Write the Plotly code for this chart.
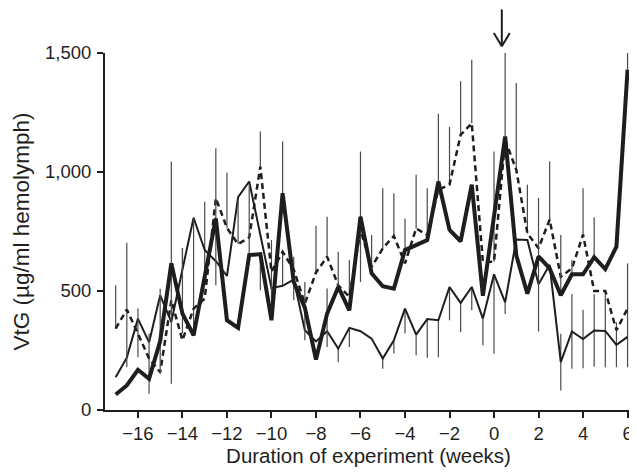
import plotly.graph_objects as go

weeks = [-17 + 0.5 * i for i in range(47)]

bold_vals = [65, 103, 169, 131, 290, 616, 405, 314, 560, 805, 377, 345, 651, 655, 377, 911,
             538, 430, 212, 405, 517, 419, 812, 574, 520, 510, 672, 693, 714, 960, 757, 709,
             947, 480, 815, 1149, 650, 489, 645, 595, 482, 570, 570, 642, 592, 686, 1430]
bold_up = [0, 0, 0, 0, 219, 428, 274, 0, 0, 295, 0, 0, 300, 0, 0, 217,
           106, 108, 0, 105, 148, 0, 274, 0, 0, 0, 133, 0, 218, 285, 0, 0,
           0, 0, 0, 358, 0, 0, 247, 0, 253, 60, 0, 168, 0, 0, 77]
bold_dn = [0, 0, 0, 0, 139, 506, 84, 0, 0, 281, 0, 0, 0, 152, 0, 0,
           77, 137, 0, 140, 0, 0, 274, 0, 0, 0, 0, 0, 0, 0, 0, 0,
           0, 0, 0, 0, 0, 0, 315, 0, 0, 0, 0, 0, 0, 0, 0]

thin_vals = [138, 220, 384, 284, 482, 370, 590, 808, 672, 625, 563, 894, 960, 740, 512, 522,
             548, 335, 288, 331, 258, 345, 331, 300, 216, 293, 426, 317, 382, 377, 517, 450,
             517, 384, 570, 452, 716, 714, 528, 610, 201, 330, 298, 334, 332, 274, 307]
thin_up = [0, 0, 0, 0, 0, 0, 91, 0, 203, 0, 0, 0, 0, 0, 0, 0,
           0, 0, 0, 0, 0, 0, 0, 0, 0, 0, 0, 0, 0, 0, 0, 0,
           0, 0, 0, 0, 0, 0, 0, 0, 119, 157, 123, 152, 152, 94, 127]
thin_dn = [0, 0, 0, 0, 0, 0, 0, 0, 148, 0, 0, 0, 0, 0, 0, 0,
           0, 0, 0, 0, 57, 80, 0, 0, 43, 56, 105, 87, 162, 155, 140, 122,
           98, 112, 334, 49, 0, 0, 0, 0, 119, 157, 123, 152, 152, 94, 127]

dash_vals = [342, 422, 321, 216, 159, 461, 293, 426, 468, 890, 765, 697, 725, 1023, 581, 665,
             590, 447, 578, 644, 524, 475, 756, 601, 679, 731, 616, 763, 735, 925, 947, 1156,
             1205, 623, 623, 1135, 1009, 742, 680, 800, 560, 595, 737, 500, 500, 335, 426]
dash_up = [182, 281, 105, 105, 0, 0, 0, 380, 0, 0, 232, 190, 0, 147, 133, 0,
           0, 0, 196, 168, 0, 155, 0, 134, 253, 180, 0, 225, 0, 0, 242, 225,
           267, 0, 463, 0, 365, 204, 0, 244, 0, 0, 195, 0, 0, 0, 190]
dash_dn = [0, 242, 99, 148, 0, 0, 0, 105, 0, 0, 0, 0, 0, 0, 176, 140,
           0, 0, 0, 0, 0, 0, 0, 0, 0, 0, 0, 0, 0, 0, 0, 0,
           0, 0, 0, 0, 0, 0, 0, 0, 0, 0, 0, 0, 0, 0, 0]

x_ticks = [-16, -14, -12, -10, -8, -6, -4, -2, 0, 2, 4, 6]
y_ticks = [0, 500, 1000, 1500]
ARROW_WEEK = 0.35

INK = "#1e1e1e"
ERR = "#4a4a4a"
FAMILY = "Liberation Sans, Arial, sans-serif"


def err(up, dn):
    return dict(type="data", symmetric=False, array=up, arrayminus=dn,
                width=0, thickness=1.2, color=ERR)


fig = go.Figure()
fig.add_trace(go.Scatter(x=weeks, y=thin_vals, mode="lines",
                         line=dict(color=INK, width=2),
                         error_y=err(thin_up, thin_dn), showlegend=False))
fig.add_trace(go.Scatter(x=weeks, y=dash_vals, mode="lines",
                         line=dict(color=INK, width=2.5, dash="6px,4px"),
                         error_y=err(dash_up, dash_dn), showlegend=False))
fig.add_trace(go.Scatter(x=weeks, y=bold_vals, mode="lines",
                         line=dict(color=INK, width=4),
                         error_y=err(bold_up, bold_dn), showlegend=False))

# arrow marker above the plot (paper y)
arrow_line = dict(color=INK, width=2)
fig.add_shape(type="line", xref="x", yref="paper", x0=ARROW_WEEK, x1=ARROW_WEEK,
              y0=1.019, y1=1.122, line=arrow_line)
fig.add_shape(type="line", xref="x", yref="paper", x0=ARROW_WEEK - 0.36, x1=ARROW_WEEK,
              y0=1.056, y1=1.019, line=arrow_line)
fig.add_shape(type="line", xref="x", yref="paper", x0=ARROW_WEEK + 0.36, x1=ARROW_WEEK,
              y0=1.056, y1=1.019, line=arrow_line)

# the page body has an 8px default margin; size the figure so the plot lands in place
fig.update_layout(
    width=629, height=464,
    margin=dict(l=97, r=5, t=45, b=62),
    paper_bgcolor="white", plot_bgcolor="white",
    font=dict(family=FAMILY, size=18.5, color="#231f20"),
    xaxis=dict(range=[-17.48, 6.2], tickvals=x_ticks, ticks="outside", ticklen=6,
               tickwidth=1.5, tickcolor=INK, showline=True, linecolor=INK, linewidth=2,
               showgrid=False, zeroline=False, tickfont=dict(size=18.5),
               title=dict(text="Duration of experiment (weeks)", standoff=4,
                          font=dict(size=20.5))),
    yaxis=dict(range=[0, 1500], tickvals=y_ticks, tickformat=",d", ticks="outside",
               ticklen=6, tickwidth=1.5, tickcolor=INK, showline=True, linecolor=INK,
               linewidth=2, showgrid=False, zeroline=False, tickfont=dict(size=18.5),
               ticklabelstandoff=2,
               title=dict(text="VtG (µg/ml hemolymph)", standoff=9,
                          font=dict(size=22.5))),
)

fig.write_html("out.html")
